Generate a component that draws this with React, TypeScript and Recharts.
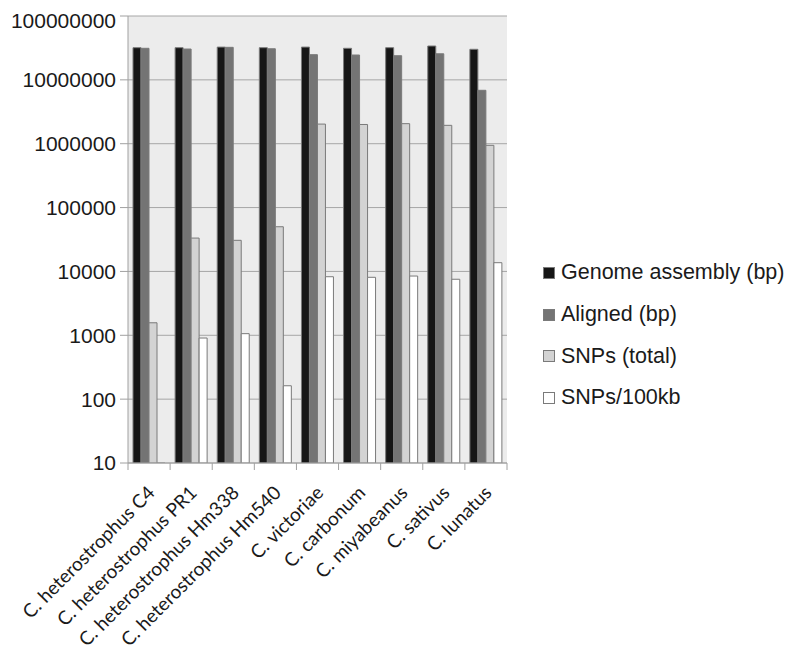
import { Bar, BarChart, CartesianGrid, Legend, XAxis, YAxis } from "recharts";

const species = [
	"C. heterostrophus C4",
	"C. heterostrophus PR1",
	"C. heterostrophus Hm338",
	"C. heterostrophus Hm540",
	"C. victoriae",
	"C. carbonum",
	"C. miyabeanus",
	"C. sativus",
	"C. lunatus",
];
const genomeAssembly = [31.9e6, 31.9e6, 32.6e6, 31.9e6, 32.6e6, 31.2e6, 31.9e6, 33.9e6, 30.1e6];
const aligned = [31.2e6, 30.4e6, 32.3e6, 30.7e6, 24.8e6, 24.5e6, 23.9e6, 25.6e6, 6.86e6];
const snpsTotal = [1570, 33300, 30700, 50100, 2030000, 2000000, 2060000, 1940000, 944000];
const snpsPer100kb = [4.9, 906, 1060, 162, 8260, 8090, 8470, 7540, 13700];
const yTicks = [10, 100, 1000, 10000, 100000, 1000000, 10000000, 100000000];

const series = [
	{ key: "genome", name: "Genome assembly (bp)", fill: "#161616" },
	{ key: "aligned", name: "Aligned (bp)", fill: "#747474" },
	{ key: "snps", name: "SNPs (total)", fill: "#d3d3d3" },
	{ key: "per100kb", name: "SNPs/100kb", fill: "#ffffff" },
];

const data = species.map((name, i) => ({
	name,
	genome: genomeAssembly[i],
	aligned: aligned[i],
	snps: snpsTotal[i],
	per100kb: snpsPer100kb[i],
}));

// tick marks sit on the category boundaries, labels hang off the category centre
const SpeciesTick = ({ x, y, payload, index }: any) => {
	const half = payload.offset || 0;
	const last = index === species.length - 1;
	return (
		<g>
			<line x1={x - half} x2={x - half} y1={y} y2={y + 7} stroke="#a0a0a0" />
			{last && <line x1={x + half} x2={x + half} y1={y} y2={y + 7} stroke="#a0a0a0" />}
			<text
				x={x + 7}
				y={y + 31}
				transform={`rotate(-45, ${x + 7}, ${y + 31})`}
				textAnchor="end"
				fontFamily="Lato, sans-serif"
				fontSize={19}
				fill="#1a1a1a"
			>
				{payload.value}
			</text>
		</g>
	);
};

const LegendBox = () => (
	<div
		style={{
			fontFamily: "'Liberation Sans', Arial, sans-serif",
			fontSize: 21.5,
			color: "#1a1a1a",
			whiteSpace: "nowrap",
		}}
	>
		{series.map((s) => (
			<div key={s.key} style={{ height: 41.7, display: "flex", alignItems: "center" }}>
				<span
					style={{
						display: "inline-block",
						width: 10,
						height: 10,
						background: s.fill,
						border: "1px solid #7a7a7a",
						marginRight: 6,
					}}
				/>
				{s.name}
			</div>
		))}
	</div>
);

export default function App() {
	return (
		<BarChart
			width={784}
			height={650}
			data={data}
			barSize={8}
			barGap={0}
			margin={{ top: 8, right: 285, bottom: 15, left: 0 }}
		>
			<CartesianGrid fill="#ececec" stroke="#a6a6a6" vertical={false} />
			<XAxis
				dataKey="name"
				interval={0}
				height={180}
				stroke="#a0a0a0"
				tickLine={false}
				tickSize={0}
				tickMargin={0}
				tick={<SpeciesTick />}
			/>
			<YAxis
				scale="log"
				domain={[10, 100000000]}
				ticks={yTicks}
				allowDataOverflow
				width={120}
				tickSize={8}
				tickMargin={4}
				stroke="#a0a0a0"
				tick={{ fill: "#1a1a1a", fontSize: 21, fontFamily: "'Liberation Sans', Arial, sans-serif" }}
			/>
			<Legend
				layout="vertical"
				align="center"
				verticalAlign="middle"
				content={<LegendBox />}
				wrapperStyle={{ left: 535, top: 244, width: 250 }}
			/>
			{series.map((s) => (
				<Bar
					key={s.key}
					dataKey={s.key}
					name={s.name}
					fill={s.fill}
					stroke="#7a7a7a"
					strokeWidth={1}
					isAnimationActive={false}
				/>
			))}
		</BarChart>
	);
}
